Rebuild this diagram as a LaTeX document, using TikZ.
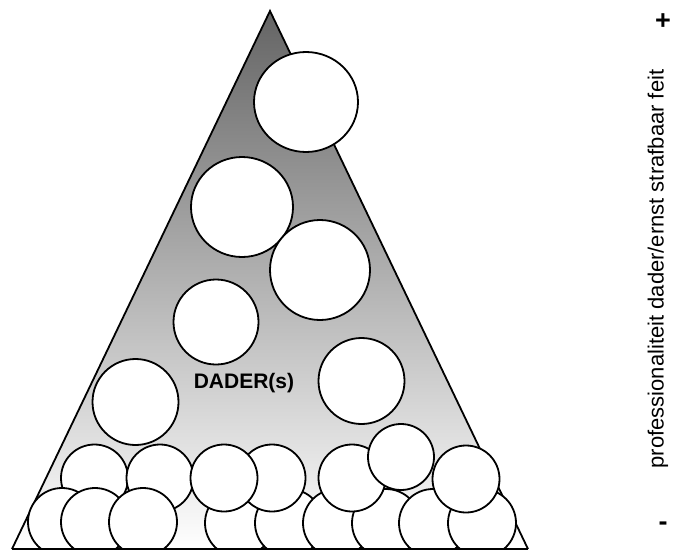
\documentclass[tikz,border=0pt]{standalone}
\usepackage{fontspec}
\setmainfont{Liberation Sans}
\begin{document}
\begin{tikzpicture}[x=1pt,y=-1pt,
  ball/.style={draw=black,line width=1.8pt,fill=white},
  edge/.style={draw=black,line width=1.8pt,line join=miter},
  lbl/.style={inner sep=0pt,font=\bfseries\fontsize{21}{21}\selectfont},
  sign/.style={inner sep=0pt,font=\bfseries\fontsize{27}{27}\selectfont}]
\useasboundingbox (0,0) rectangle (677,552);
% triangle with gradient
\coordinate (apex) at (270,11);
\coordinate (bl) at (12,549);
\coordinate (br) at (528,549);
\path[top color={rgb,255:red,100;green,100;blue,100}, bottom color=white] (apex) -- (bl) -- (br) -- cycle;
\draw[edge] (bl) -- (apex) -- (br);
\begin{scope}
\clip (0,0) rectangle (677,549);
% lower rows of small circles (back to front)
\draw[ball] (94.5,478) circle[radius=33.5pt];
\draw[ball] (160,478) circle[radius=33.5pt];
\draw[ball] (62,522) circle[radius=34pt];
\draw[ball] (95,522) circle[radius=34pt];
\draw[ball] (143,522) circle[radius=34pt];
\draw[ball] (239,523) circle[radius=34pt];
\draw[ball] (289,523) circle[radius=34pt];
\draw[ball] (337,523) circle[radius=34pt];
\draw[ball] (386,523) circle[radius=34pt];
\draw[ball] (433,523) circle[radius=34pt];
\draw[ball] (482,523) circle[radius=34pt];
\draw[ball] (272,478) circle[radius=33.5pt];
\draw[ball] (224,478) circle[radius=33.5pt];
\draw[ball] (352,478) circle[radius=33.5pt];
\draw[ball] (401,457) circle[radius=33pt];
\draw[ball] (466,479) circle[radius=33.5pt];
\end{scope}
% large circles
\draw[ball] (306,102) ellipse[x radius=52pt,y radius=50pt];
\draw[ball] (242,207) ellipse[x radius=51pt,y radius=50pt];
\draw[ball] (320,270) circle[radius=50pt];
\draw[ball] (216,322) circle[radius=42.5pt];
\draw[ball] (135.5,402) circle[radius=43pt];
\draw[ball] (361.5,381) circle[radius=43pt];
\draw[edge,line width=2.6pt] (bl) -- (br);
% labels
\node[lbl] (dader) at (244,383.5) {DADER(s)};
\node[sign] (plus) at (663,22) {+};
\node[sign] (minus) at (663,526) {-};
\node[inner sep=0pt,rotate=90,font=\fontsize{22}{22}\selectfont] (axis) at (658,269) {professionaliteit dader/ernst strafbaar feit};
\end{tikzpicture}
\end{document}
